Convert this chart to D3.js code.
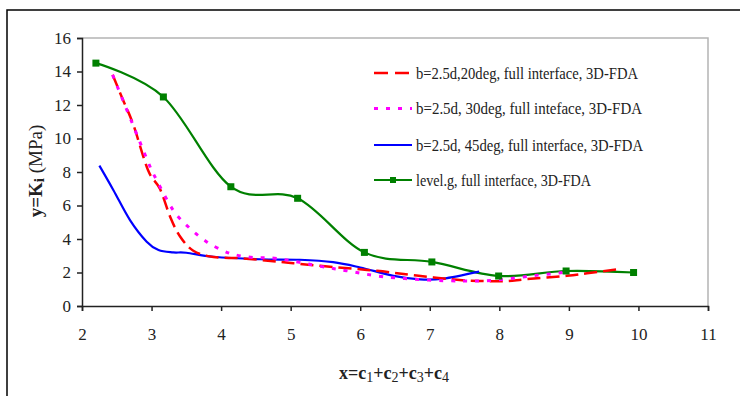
<!DOCTYPE html>
<html>
<head>
<meta charset="utf-8">
<script src="https://cdn.jsdelivr.net/npm/d3@7"></script>
<style>
  body { margin: 0; background: #fff; }
  svg { font-family: "Liberation Serif", "Times New Roman", serif; }
</style>
</head>
<body>
<svg id="chart" width="740" height="396"></svg>
<script>
// series values  [x, y]
const deg20 = [[2.44,13.8],[2.59,12.3],[2.74,10.8],[2.95,8.1],[3.12,7.0],[3.27,5.3],[3.41,4.15],
  [3.6,3.3],[3.89,2.92],[4.3,2.85],[4.8,2.65],[5.04,2.55],[5.66,2.31],[6.24,2.1],[6.81,1.82],
  [7.43,1.55],[7.77,1.49],[8.1,1.49],[8.39,1.6],[8.97,1.8],[9.26,1.95],[9.69,2.18]];
const deg30 = [[2.44,13.8],[2.95,8.6],[3.05,7.7],[3.31,5.73],[3.55,4.64],[3.79,3.84],[4.01,3.34],
  [4.18,3.08],[4.46,2.89],[4.8,2.84],[5.45,2.35],[5.8,2.11],[6.33,1.75],[6.98,1.55],[7.48,1.49],
  [7.82,1.51],[8.15,1.63],[8.49,1.81],[8.82,1.95],[8.97,2.03]];
const deg45 = [[2.25,8.38],[2.45,6.93],[2.69,5.13],[2.93,3.84],[3.1,3.34],[3.31,3.2],[3.5,3.18],
  [3.89,2.94],[4.56,2.79],[5.13,2.76],[5.61,2.62],[6.0,2.3],[6.48,1.8],[6.86,1.59],[7.19,1.63],
  [7.71,2.05]];
const levelG = [[2.2,14.5],[3.17,12.48],[4.14,7.12],[5.1,6.43],[6.06,3.2],[7.03,2.63],[7.99,1.79],
  [8.96,2.09],[9.93,2.0]];

const seriesNames = ["b=2.5d,20deg, full interface, 3D-FDA",
  "b=2.5d, 30deg, full  inteface, 3D-FDA",
  "b=2.5d, 45deg, full interface, 3D-FDA",
  "level.g, full interface, 3D-FDA"];

const xTicks = [2,3,4,5,6,7,8,9,10,11];
const yTicks = [0,2,4,6,8,10,12,14,16];

const svg = d3.select("#chart");

// outer frame (cut off on the right and bottom)
svg.append("rect")
  .attr("x",7).attr("y",10).attr("width",800).attr("height",500)
  .attr("fill","none").attr("stroke","#000").attr("stroke-width",1.5);

const sx = d3.scaleLinear().domain([2,11]).range([82,708]);
const sy = d3.scaleLinear().domain([0,16]).range([306,38]);

// plot area border, gray on top and right
svg.append("path")
  .attr("d",`M${sx(2)},${sy(16)}H${sx(11)}V${sy(0)}`)
  .attr("fill","none").attr("stroke","#b4b4b4").attr("stroke-width",1.5);

const yAxis = svg.append("g")
  .attr("transform",`translate(${sx(2)},0)`)
  .call(d3.axisLeft(sy).tickValues(yTicks).tickSize(5).tickPadding(6).tickFormat(d3.format("d")));
const xAxis = svg.append("g")
  .attr("transform",`translate(0,${sy(0)})`)
  .call(d3.axisBottom(sx).tickValues(xTicks).tickSize(5).tickPadding(17).tickFormat(d3.format("d")));

[yAxis,xAxis].forEach(a=>{
  a.selectAll("path,line").attr("stroke","#222").attr("stroke-width",1.5);
  a.selectAll("text").attr("font-family","Liberation Serif, Times New Roman, serif")
    .attr("font-size",17).attr("fill","#222");
});

const line = d3.line()
  .x(d=>sx(d[0])).y(d=>sy(d[1]))
  .curve(d3.curveCardinal.tension(0));

const styles = [
  {color:"#ff0000", dash:"13,6", width:2.5},
  {color:"#ff00ff", dash:"4,8", width:3},
  {color:"#0000ff", dash:null, width:2.2},
  {color:"#008000", dash:null, width:2.2}
];
const allSeries = [deg20, deg30, deg45, levelG];

// draw green first so others sit on top, like the reference
const order = [3,2,0,1];
order.forEach(i=>{
  svg.append("path")
    .datum(allSeries[i])
    .attr("d",line)
    .attr("fill","none")
    .attr("stroke",styles[i].color)
    .attr("stroke-width",styles[i].width)
    .attr("stroke-dasharray",styles[i].dash);
});

svg.append("g").selectAll("rect")
  .data(levelG)
  .join("rect")
  .attr("x",d=>sx(d[0])-3.5).attr("y",d=>sy(d[1])-3.5)
  .attr("width",7).attr("height",7)
  .attr("fill","#008000");

// legend
const legendY = [73,108.5,145,180];
const legendW = [222,226,227,175];
const legend = svg.append("g");
seriesNames.forEach((name,i)=>{
  const y = legendY[i];
  legend.append("line")
    .attr("x1",374).attr("x2",412).attr("y1",y).attr("y2",y)
    .attr("stroke",styles[i].color)
    .attr("stroke-width",styles[i].width)
    .attr("stroke-dasharray",i===0 ? "14,7" : styles[i].dash);
  if(i===3){
    legend.append("rect").attr("x",390).attr("y",y-3).attr("width",6).attr("height",6)
      .attr("fill","#008000");
  }
  legend.append("text")
    .attr("x",416).attr("y",y+5.5)
    .attr("font-size",17)
    .attr("textLength",legendW[i])
    .attr("lengthAdjust","spacingAndGlyphs")
    .attr("fill","#222")
    .text(name);
});

// axis titles
const yTitle = svg.append("text")
  .attr("transform","translate(42,171) rotate(-90)")
  .attr("text-anchor","middle")
  .attr("font-size",19)
  .attr("fill","#222");
yTitle.append("tspan").attr("font-weight","bold").text("y=K");
yTitle.append("tspan").attr("font-weight","bold").attr("font-size",15).attr("dy",2).text("i");
yTitle.append("tspan").attr("dy",-2).text(" (MPa)");

const xTitle = svg.append("text")
  .attr("x",394).attr("y",379)
  .attr("text-anchor","middle")
  .attr("font-size",18)
  .attr("font-weight","bold")
  .attr("fill","#222");
["x=c","1","+c","2","+c","3","+c","4"].forEach((t,i)=>{
  const sub = i%2===1;
  xTitle.append("tspan")
    .attr("font-size",sub?14:18)
    .attr("font-weight",sub?"normal":"bold")
    .attr("dy",sub?3:(i===0?0:-3))
    .text(t);
});
</script>
</body>
</html>
